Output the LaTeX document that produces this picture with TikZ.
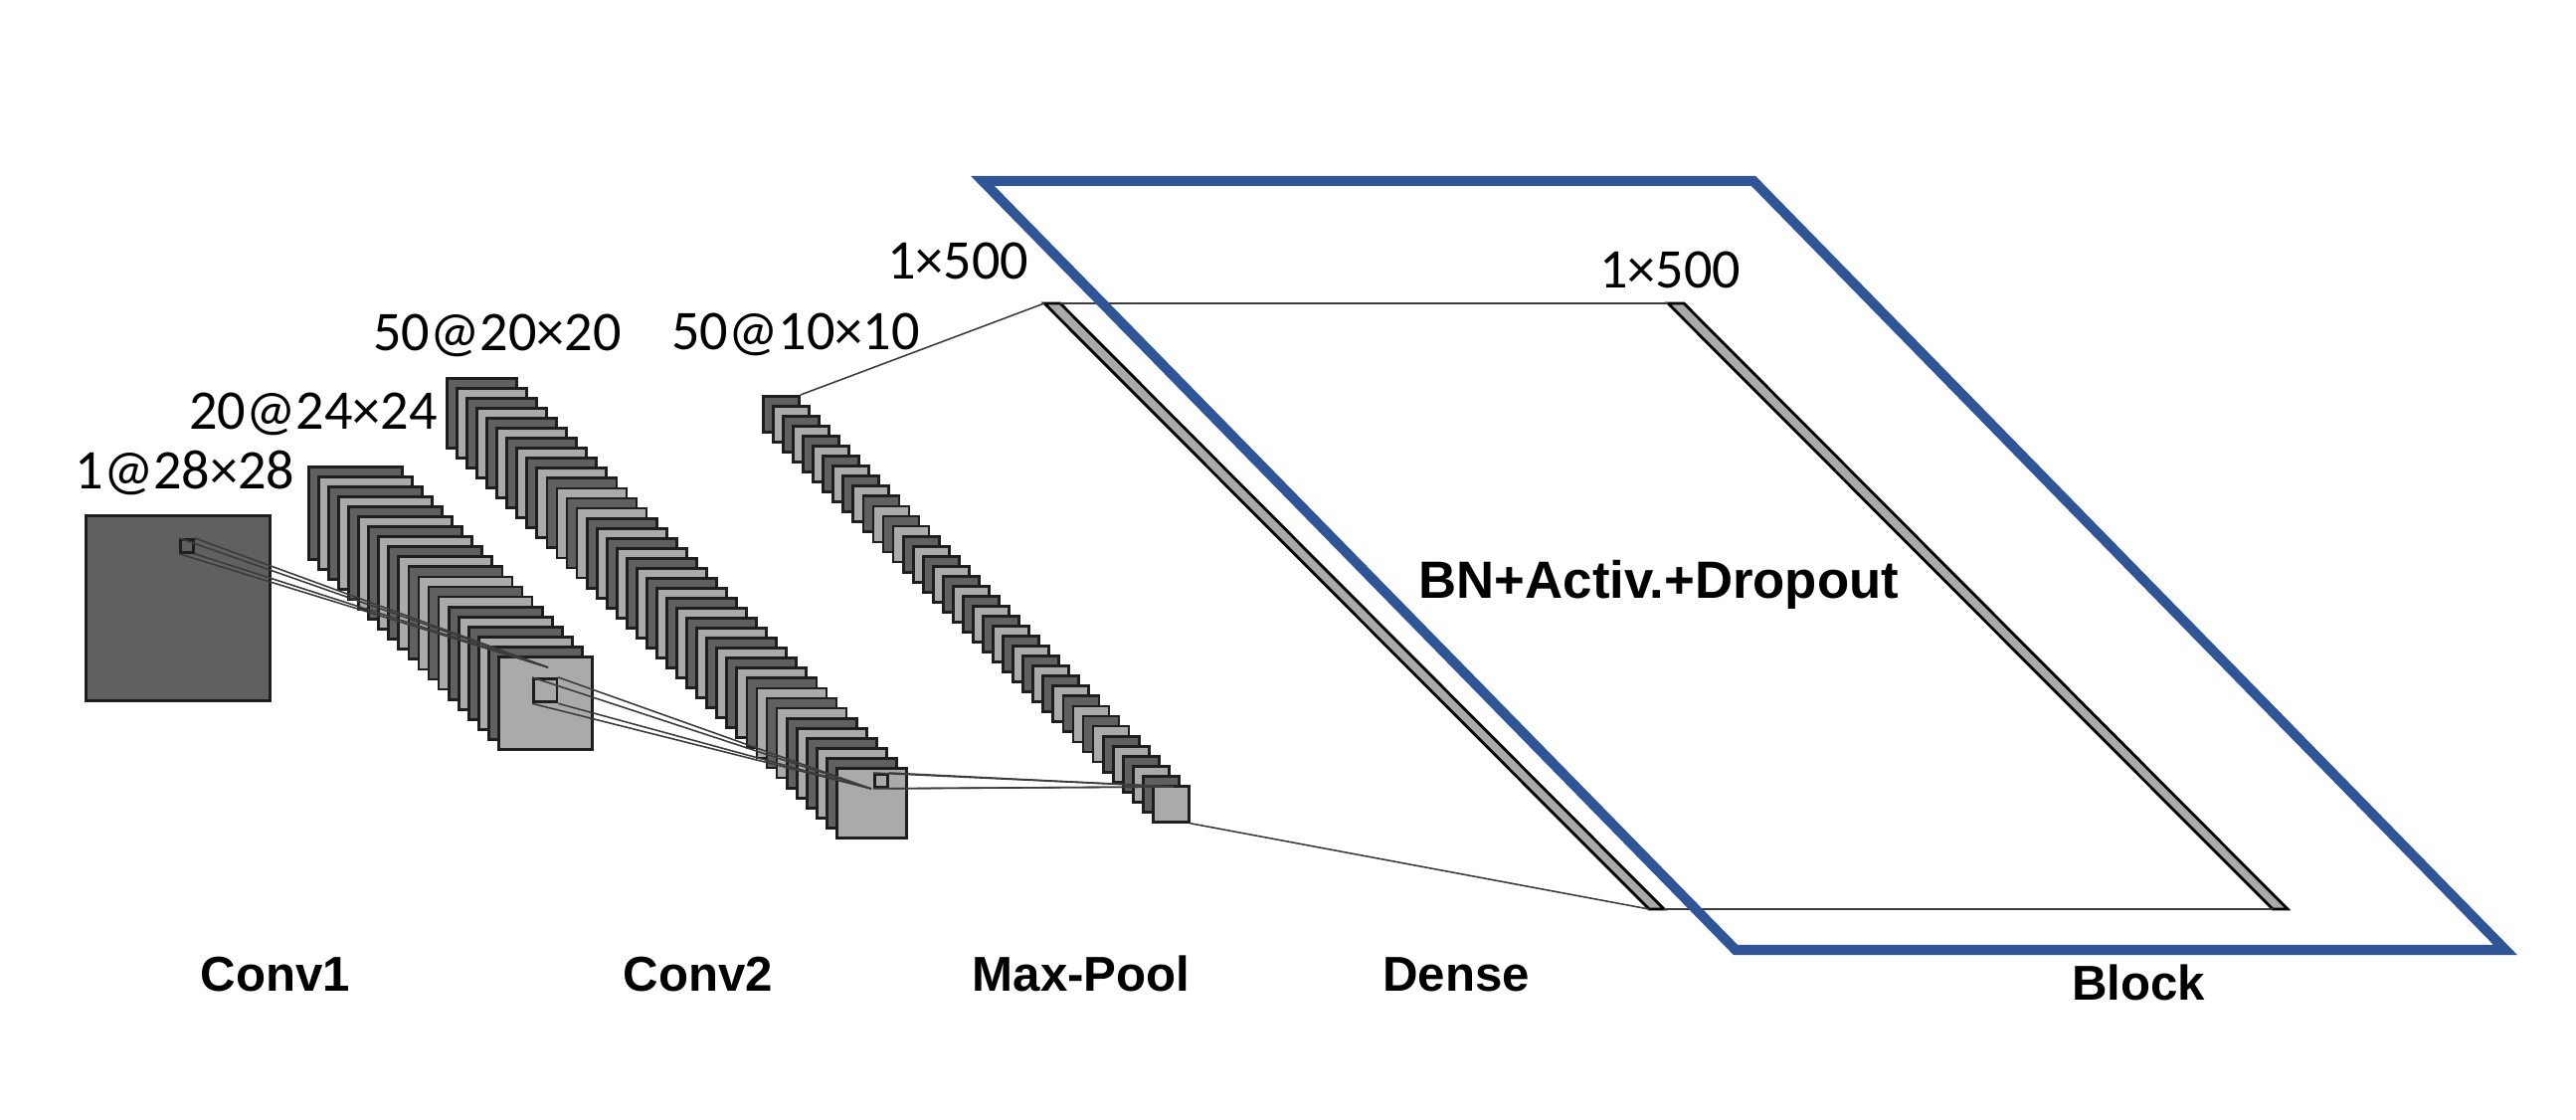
\documentclass[tikz,border=0pt]{standalone}
\usepackage{fontspec}
\setmainfont{Liberation Sans}
\newfontfamily\dimfont{Carlito}
\definecolor{mapdark}{RGB}{96,96,96}
\definecolor{maplight}{RGB}{170,170,170}
\definecolor{mapline}{RGB}{30,30,30}
\definecolor{linkgray}{RGB}{60,60,60}
\definecolor{blockblue}{RGB}{47,85,151}

\begin{document}
\begin{tikzpicture}[x=0.1mm, y=-0.1mm,
    fmap/.style={draw=mapline, line width=0.8pt, inner sep=0pt, anchor=north west},
    link/.style={draw=linkgray, line width=0.45pt},
    bar/.style={fill=maplight, draw=black, line width=0.8pt},
    dimlabel/.style={font=\dimfont\fontsize{16}{19}\selectfont, inner sep=0pt, anchor=base},
    layername/.style={font=\bfseries\fontsize{14}{17}\selectfont, inner sep=0pt, anchor=base}]
        \useasboundingbox (0,0) rectangle (2590,1126);
        % Input
        \node[fmap, fill=mapdark, minimum width=18.5mm, minimum height=18.6mm] (input) at (85,517) {};
        \node[fmap, fill=mapdark, minimum size=1.3mm] (k0) at (180,541) {};
        % Conv1 maps
        \foreach \i in {0,...,19} {
            \ifodd\i \def\shade{maplight}\else \def\shade{mapdark}\fi
            \node[fmap, fill=\shade, minimum width=9.4mm, minimum height=9.3mm] (conv1-\i) at (309+10.05*\i,468+10.05*\i) {};
        }
        \node[fmap, fill=maplight, minimum size=2.35mm] (k1) at (535,681) {};
        % Conv2 maps
        \foreach \i in {0,...,39} {
            \ifodd\i \def\shade{maplight}\else \def\shade{mapdark}\fi
            \node[fmap, fill=\shade, minimum size=7mm] (conv2-\i) at (448+10.05*\i,379+10.05*\i) {};
        }
        \node[fmap, fill=maplight, minimum size=1.3mm] (k2) at (878,777) {};
        % Max-Pool maps
        \foreach \i in {0,...,39} {
            \ifodd\i \def\shade{maplight}\else \def\shade{mapdark}\fi
            \node[fmap, fill=\shade, minimum size=3.6mm] (pool-\i) at (766+10.05*\i,397+10.05*\i) {};
        }
        % Dense and block bars
        \coordinate (dense-tl) at (1050,305);
        \coordinate (dense-tr) at (1066,305);
        \coordinate (dense-br) at (1673,914);
        \coordinate (dense-bl) at (1658,914);
        \coordinate (blk-tl) at (1677,305);
        \coordinate (blk-tr) at (1693,305);
        \coordinate (blk-br) at (2300,914);
        \coordinate (blk-bl) at (2285,914);
        \draw[bar] (dense-tl) -- (dense-tr) -- (dense-br) -- (dense-bl) -- cycle;
        \draw[bar] (blk-tl) -- (blk-tr) -- (blk-br) -- (blk-bl) -- cycle;
        % Mappings
        \coordinate (a1) at (551,671);
        \coordinate (a2) at (876,793);
        \coordinate (a3) at (1180,791);
        \foreach \c in {north west,north east,south west,south east} {
            \draw[link] (k0.\c) -- (a1);
            \draw[link] (k1.\c) -- (a2);
            \draw[link] (k2.\c) -- (a3);
        }
        \draw[link] (pool-0.north east) -- (dense-tl);
        \draw[link] (pool-39.south east) -- (dense-bl);
        \draw[link] (dense-tr) -- (blk-tl);
        \draw[link] (dense-br) -- (blk-bl);
        % Block frame
        \draw[blockblue, line width=2.85pt, line join=miter] (988,182) coordinate (frame-tl) -- (1763,182) -- (2519,955) -- (1745,955) -- cycle;
        % Sizes
        \node[dimlabel] (size0) at (186,492) {1@28×28};
        \node[dimlabel] (size1) at (315,432) {20@24×24};
        \node[dimlabel] (size2) at (500,353) {50@20×20};
        \node[dimlabel] (size3) at (800,352) {50@10×10};
        \node[dimlabel] (size4) at (963,281) {1×500};
        \node[dimlabel] (size5) at (1679,290) {1×500};
        % Layer names
        \node[layername] (name1) at (277,997) {Conv1};
        \node[layername] (name2) at (702,997) {Conv2};
        \node[layername] (name3) at (1087,997) {Max-Pool};
        \node[layername] (name4) at (1464,997) {Dense};
        \node[layername] (name5) at (2150,1006) {Block};
        \node[layername, font=\bfseries\fontsize{15}{18}\selectfont] (ops) at (1668,602) {BN+Activ.+Dropout};
\end{tikzpicture}
\end{document}
